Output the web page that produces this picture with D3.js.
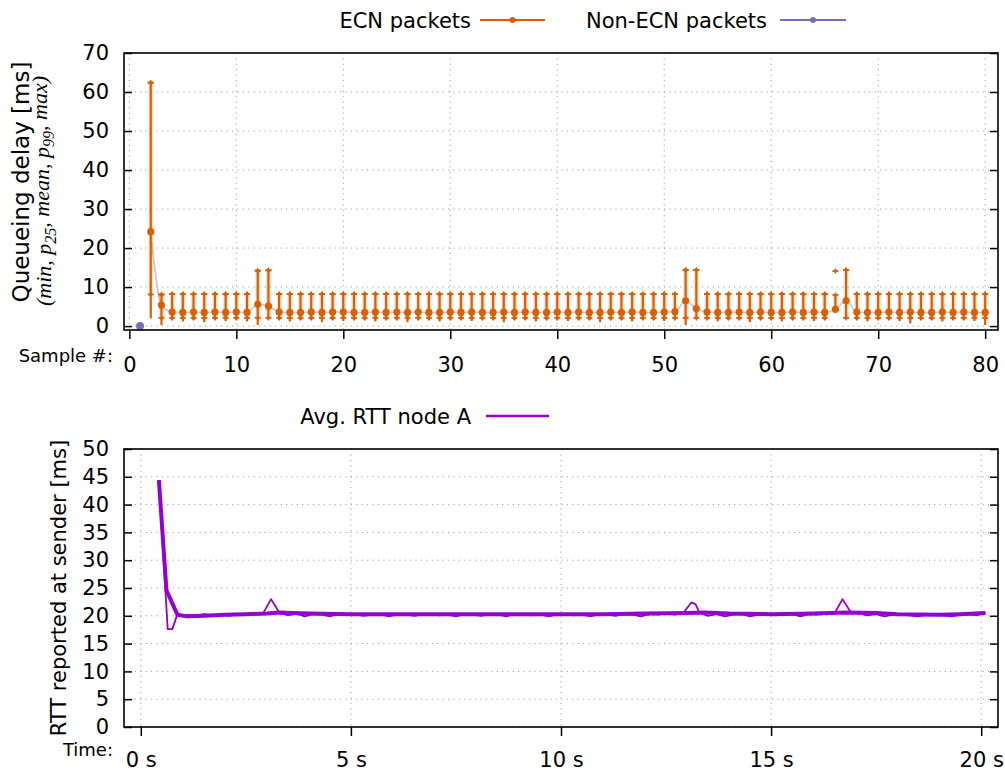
<!DOCTYPE html>
<html>
<head>
<meta charset="utf-8">
<script src="https://cdn.jsdelivr.net/npm/d3@7"></script>
<style>
  body { margin: 0; background: #fff; }
  svg { display: block; }
  text { font-family: "DejaVu Sans", sans-serif; fill: #000; }
  .grid line { stroke: #a0a0a0; stroke-width: 1; stroke-dasharray: 1.2 4.2; }
  .tick line { stroke: #000; stroke-width: 1.5; }
</style>
</head>
<body>
<svg id="chart" width="1005" height="772"></svg>
<script>
// ---- Queueing delay per sample (ECN packets, samples 2..80) ----
const ecnSamples = d3.range(2, 81);
const ecnMin = [
  2.0, 0.3, 1.5, 1.2, 1.5, 1.0, 1.5, 1.3, 1.5, 1.2,
  0.3, 2.0, 1.5, 1.2, 1.5, 1.5, 1.0, 1.5, 1.3, 1.5,
  1.5, 1.2, 1.5, 1.5, 1.0, 1.5, 1.5, 1.2, 1.5, 1.5,
  1.3, 1.5, 1.5, 1.0, 1.5, 1.5, 1.2, 1.5, 1.5, 1.3,
  1.5, 1.5, 1.0, 1.5, 1.5, 1.2, 1.5, 1.5, 1.3, 1.5,
  0.3, 2.0, 1.5, 1.2, 1.5, 1.5, 1.0, 1.5, 1.5, 1.2,
  1.5, 1.5, 1.3, 1.5, 4.0, 2.0, 1.5, 1.2, 1.5, 1.5,
  1.3, 0.7, 1.5, 1.5, 1.2, 1.5, 1.5, 1.3, 0.3
];
const ecnP25 = [
  8.1, 2.1, 2.1, 2.1, 2.1, 2.1, 2.1, 2.1, 2.1, 2.1,
  2.1, 2.1, 2.1, 2.1, 2.1, 2.1, 2.1, 2.1, 2.1, 2.1,
  2.1, 2.1, 2.1, 2.1, 2.1, 2.1, 2.1, 2.1, 2.1, 2.1,
  2.1, 2.1, 2.1, 2.1, 2.1, 2.1, 2.1, 2.1, 2.1, 2.1,
  2.1, 2.1, 2.1, 2.1, 2.1, 2.1, 2.1, 2.1, 2.1, 2.1,
  2.1, 2.1, 2.1, 2.1, 2.1, 2.1, 2.1, 2.1, 2.1, 2.1,
  2.1, 2.1, 2.1, 2.1, 4.1, 2.1, 2.1, 2.1, 2.1, 2.1,
  2.1, 2.1, 2.1, 2.1, 2.1, 2.1, 2.1, 2.1, 2.1
];
const ecnMean = [
  24.2, 5.4, 3.6, 3.5, 3.6, 3.5, 3.6, 3.5, 3.6, 3.5,
  5.6, 5.1, 3.6, 3.5, 3.5, 3.6, 3.5, 3.6, 3.6, 3.5,
  3.5, 3.6, 3.5, 3.6, 3.5, 3.6, 3.5, 3.5, 3.6, 3.5,
  3.6, 3.5, 3.5, 3.6, 3.5, 3.6, 3.5, 3.5, 3.6, 3.5,
  3.6, 3.5, 3.5, 3.6, 3.5, 3.6, 3.5, 3.5, 3.6, 3.7,
  6.5, 4.5, 3.6, 3.5, 3.5, 3.6, 3.5, 3.6, 3.5, 3.5,
  3.6, 3.5, 3.6, 3.5, 4.3, 6.5, 3.6, 3.5, 3.5, 3.6,
  3.5, 3.6, 3.5, 3.5, 3.6, 3.5, 3.6, 3.5, 3.5
];
const ecnP99 = [
  62.4, 8.1, 8.2, 8.2, 8.2, 8.2, 8.2, 8.2, 8.2, 8.2,
  14.2, 14.3, 8.2, 8.2, 8.2, 8.2, 8.2, 8.2, 8.2, 8.2,
  8.2, 8.2, 8.2, 8.2, 8.2, 8.2, 8.2, 8.2, 8.2, 8.2,
  8.2, 8.2, 8.2, 8.2, 8.2, 8.2, 8.2, 8.2, 8.2, 8.2,
  8.2, 8.2, 8.2, 8.2, 8.2, 8.2, 8.2, 8.2, 8.2, 8.2,
  14.4, 14.4, 8.2, 8.2, 8.2, 8.2, 8.2, 8.2, 8.2, 8.2,
  8.2, 8.2, 8.2, 8.2, 8.0, 14.4, 8.2, 8.2, 8.2, 8.2,
  8.2, 8.2, 8.2, 8.2, 8.2, 8.2, 8.2, 8.2, 8.2
];
const ecnMax = [
  62.4, 8.1, 8.2, 8.2, 8.2, 8.2, 8.2, 8.2, 8.2, 8.2,
  14.2, 14.3, 8.2, 8.2, 8.2, 8.2, 8.2, 8.2, 8.2, 8.2,
  8.2, 8.2, 8.2, 8.2, 8.2, 8.2, 8.2, 8.2, 8.2, 8.2,
  8.2, 8.2, 8.2, 8.2, 8.2, 8.2, 8.2, 8.2, 8.2, 8.2,
  8.2, 8.2, 8.2, 8.2, 8.2, 8.2, 8.2, 8.2, 8.2, 8.2,
  14.4, 14.4, 8.2, 8.2, 8.2, 8.2, 8.2, 8.2, 8.2, 8.2,
  8.2, 8.2, 8.2, 8.2, 14.1, 14.4, 8.2, 8.2, 8.2, 8.2,
  8.2, 8.2, 8.2, 8.2, 8.2, 8.2, 8.2, 8.2, 8.2
];

// ---- Non-ECN packets ----
const nonEcnSamples = [1];
const nonEcnMean = [0];

// ---- RTT reported at sender (raw samples) ----
const rttRawTime = [
  0.43, 0.64, 0.75, 0.87, 0.97,
  1.1, 1.3, 1.5, 1.7, 1.9, 2.1, 2.3, 2.5, 2.7, 2.9,
  3.1, 3.3, 3.5, 3.7, 3.9, 4.1, 4.3, 4.5, 4.7, 4.9,
  5.1, 5.3, 5.5, 5.7, 5.9, 6.1, 6.3, 6.5, 6.7, 6.9,
  7.1, 7.3, 7.5, 7.7, 7.9, 8.1, 8.3, 8.5, 8.7, 8.9,
  9.1, 9.3, 9.5, 9.7, 9.9, 10.1, 10.3, 10.5, 10.7, 10.9,
  11.1, 11.3, 11.5, 11.7, 11.9, 12.1, 12.3, 12.5, 12.7, 12.9,
  13.1, 13.2, 13.3, 13.5, 13.7, 13.9, 14.1, 14.3, 14.5, 14.7, 14.9,
  15.1, 15.3, 15.5, 15.7, 15.9, 16.1, 16.3, 16.5, 16.7, 16.9,
  17.1, 17.3, 17.5, 17.7, 17.9, 18.1, 18.3, 18.5, 18.7, 18.9,
  19.1, 19.3, 19.5, 19.7, 19.9, 20.1
];
const rttRaw = [
  44.4, 17.6, 17.6, 20.3, 20.0,
  20.1, 20.0, 20.3, 20.1, 20.2, 20.0, 20.3, 20.2, 20.4, 20.3,
  23.0, 20.5, 20.1, 20.4, 19.9, 20.3, 20.2, 19.9, 20.3, 20.2,
  20.3, 20.0, 20.2, 20.3, 19.9, 20.2, 20.3, 20.0, 20.2, 20.3,
  20.1, 20.2, 19.9, 20.3, 20.2, 20.0, 20.3, 20.2, 19.9, 20.3,
  20.2, 20.1, 20.3, 19.9, 20.2, 20.3, 20.1, 20.2, 19.9, 20.3,
  20.2, 20.0, 20.3, 20.2, 19.9, 20.3, 20.2, 20.4, 20.2, 20.4,
  22.4, 22.1, 20.5, 20.0, 20.3, 19.9, 20.2, 20.3, 19.9, 20.2, 20.3,
  20.1, 20.2, 20.3, 19.9, 20.3, 20.2, 20.4, 20.3, 23.0, 20.6,
  20.4, 20.1, 20.3, 19.9, 20.2, 20.3, 20.1, 19.9, 20.2, 20.3,
  20.1, 19.9, 20.2, 20.3, 20.1, 20.5
];

// ---- Avg. RTT node A ----
const rttAvgTime = [0.43, 0.61, 0.87, 1.1, 1.5, 2.0, 2.5, 3.0, 3.3, 3.6, 4.0, 5.0, 6.0, 7.0, 8.0, 9.0,
  10.0, 11.0, 12.0, 13.0, 13.4, 14.0, 15.0, 16.0, 16.8, 17.5, 18.0, 19.0, 19.5, 20.1];
const rttAvg = [44.4, 24.6, 20.2, 19.9, 20.0, 20.2, 20.3, 20.4, 20.6, 20.5, 20.4, 20.3, 20.3, 20.3, 20.3, 20.3,
  20.3, 20.3, 20.4, 20.5, 20.6, 20.4, 20.3, 20.4, 20.6, 20.5, 20.3, 20.2, 20.3, 20.5];

// ---- Axis ticks ----
const topXTicks = [0, 10, 20, 30, 40, 50, 60, 70, 80];
const topYTicks = [0, 10, 20, 30, 40, 50, 60, 70];
const botXTicks = [0, 5, 10, 15, 20];
const botYTicks = [0, 5, 10, 15, 20, 25, 30, 35, 40, 45, 50];

const ECN = "#d95f02", NONECN = "#7570b3", RTT = "#9400d3", MEANLINE = "#c8c8c8";

const svg = d3.select("#chart");

// Plot frames
const P1 = { l: 124, r: 998, t: 53, b: 330 };
const P2 = { l: 124, r: 998, t: 449, b: 727 };

const x1 = d3.scaleLinear([-0.5, 81.2], [P1.l, P1.r]);
const y1 = d3.scaleLinear([-1, 70], [P1.b, P1.t]);
const x2 = d3.scaleLinear([-0.4, 20.4], [P2.l, P2.r]);
const y2 = d3.scaleLinear([0, 50], [P2.b, P2.t]);

function frame(P, x, y, xt, yt, xfmt, xPad) {
  const grid = svg.append("g").attr("class", "grid");
  grid.selectAll(".gx").data(xt).join("line")
    .attr("x1", d => x(d)).attr("x2", d => x(d))
    .attr("y1", P.t).attr("y2", P.b);
  grid.selectAll(".gy").data(yt).join("line")
    .attr("x1", P.l).attr("x2", P.r)
    .attr("y1", d => y(d)).attr("y2", d => y(d));

  const left = svg.append("g").attr("transform", `translate(${P.l},0)`)
    .call(d3.axisLeft(y).tickValues(yt).tickSize(-8).tickPadding(15));
  const right = svg.append("g").attr("transform", `translate(${P.r},0)`)
    .call(d3.axisRight(y).tickValues(yt).tickSize(-8).tickFormat(""));
  const bottom = svg.append("g").attr("transform", `translate(0,${P.b})`)
    .call(d3.axisBottom(x).tickValues(xt).tickSize(9).tickPadding(xPad).tickFormat(xfmt));
  [left, right, bottom].forEach(a => {
    a.select(".domain").remove();
    a.selectAll("text").style("font-size", "21px").style("font-family", "'DejaVu Sans', sans-serif").attr("fill", "#000");
  });
  return () => svg.append("rect")
    .attr("x", P.l).attr("y", P.t).attr("width", P.r - P.l).attr("height", P.b - P.t)
    .attr("fill", "none").attr("stroke", "#000").attr("stroke-width", 1.6);
}

// ================= Top panel: queueing delay =================
const border1 = frame(P1, x1, y1, topXTicks, topYTicks, d3.format("d"), 18);

const ecn = ecnSamples.map((s, i) => ({
  s, min: ecnMin[i], p25: ecnP25[i], mean: ecnMean[i], p99: ecnP99[i], max: ecnMax[i]
}));

// mean trend line
svg.append("path").datum(ecn)
  .attr("fill", "none").attr("stroke", MEANLINE).attr("stroke-width", 1.6)
  .attr("d", d3.line().x(d => x1(d.s)).y(d => y1(d.mean)).curve(d3.curveMonotoneX));

const bars = svg.append("g").selectAll("g").data(ecn).join("g");
// p25..p99 halo
bars.append("rect")
  .attr("x", d => x1(d.s) - 2.5).attr("width", 5)
  .attr("y", d => y1(Math.max(d.p25, d.p99))).attr("height", d => Math.abs(y1(d.p25) - y1(d.p99)))
  .attr("fill", ECN).attr("opacity", 0.18);
// min..p99 stem
bars.append("line")
  .attr("x1", d => x1(d.s)).attr("x2", d => x1(d.s))
  .attr("y1", d => y1(d.min)).attr("y2", d => y1(d.p99))
  .attr("stroke", ECN).attr("stroke-width", 2.2);
// end markers at p25, p99 and max
["p25", "p99", "max"].forEach(k => {
  bars.append("line")
    .attr("x1", d => x1(d.s) - 3).attr("x2", d => x1(d.s) + 3)
    .attr("y1", d => y1(d[k])).attr("y2", d => y1(d[k]))
    .attr("stroke", ECN).attr("stroke-width", 1.8);
  bars.append("path")
    .attr("d", d => `M${x1(d.s)},${y1(d[k]) - 3}L${x1(d.s) + 1.8},${y1(d[k])}L${x1(d.s)},${y1(d[k]) + 3}L${x1(d.s) - 1.8},${y1(d[k])}Z`)
    .attr("fill", ECN);
});
// mean dots
bars.append("circle")
  .attr("cx", d => x1(d.s)).attr("cy", d => y1(d.mean)).attr("r", 3.6)
  .attr("fill", ECN);

// non-ECN
svg.append("g").selectAll("circle").data(nonEcnSamples.map((s, i) => ({ s, v: nonEcnMean[i] })))
  .join("circle")
  .attr("cx", d => x1(d.s)).attr("cy", d => y1(d.v)).attr("r", 4)
  .attr("fill", NONECN);

border1();

// Axis titles (top)
svg.append("text").attr("transform", "translate(29,182) rotate(-90)")
  .attr("text-anchor", "middle").style("font-size", "23px").text("Queueing delay [ms]");
const sub = svg.append("text").attr("transform", "translate(51,191) rotate(-90)")
  .attr("text-anchor", "middle")
  .style("font-family", "'Liberation Serif', 'DejaVu Serif', serif")
  .style("font-style", "italic").style("font-size", "22px");
[["(min, p", 0], ["25", 1], [", mean, p", 0], ["99", 1], [", max)", 0]].forEach(([t, isSub], i, arr) => {
  const ts = sub.append("tspan").text(t);
  if (isSub) ts.attr("dy", "0.3em").style("font-size", "16px");
  else if (i > 0 && arr[i - 1][1]) ts.attr("dy", "-0.3em");
});
svg.append("text").attr("x", 113).attr("y", 361.5).attr("text-anchor", "end")
  .style("font-size", "18px").text("Sample #:");

// Legend (top)
function legendEntry(xTextEnd, xl0, xl1, y, color, label, dot, width) {
  svg.append("text").attr("x", xTextEnd).attr("y", y).attr("dy", "0.36em")
    .attr("text-anchor", "end").style("font-size", "21px").text(label);
  svg.append("line").attr("x1", xl0).attr("x2", xl1).attr("y1", y).attr("y2", y)
    .attr("stroke", color).attr("stroke-width", width);
  if (dot) svg.append("circle").attr("cx", (xl0 + xl1) / 2).attr("cy", y).attr("r", 3)
    .attr("fill", color);
}
legendEntry(471, 480, 545, 20, ECN, "ECN packets", true, 2);
legendEntry(767, 780, 846, 20, NONECN, "Non-ECN packets", true, 2);

// ================= Bottom panel: RTT =================
const border2 = frame(P2, x2, y2, botXTicks, botYTicks, d => d + " s", 16);

const rawPts = rttRawTime.map((t, i) => [t, rttRaw[i]]);
const avgPts = rttAvgTime.map((t, i) => [t, rttAvg[i]]);

svg.append("path").datum(rawPts)
  .attr("fill", "none").attr("stroke", RTT).attr("stroke-width", 1.8)
  .attr("stroke-linejoin", "round")
  .attr("d", d3.line().x(d => x2(d[0])).y(d => y2(d[1])));
svg.append("path").datum(avgPts)
  .attr("fill", "none").attr("stroke", RTT).attr("stroke-width", 4)
  .attr("stroke-linejoin", "round")
  .attr("d", d3.line().x(d => x2(d[0])).y(d => y2(d[1])));

border2();

svg.append("text").attr("transform", "translate(66,588) rotate(-90)")
  .attr("text-anchor", "middle").style("font-size", "21px").text("RTT reported at sender [ms]");
svg.append("text").attr("x", 113).attr("y", 756).attr("text-anchor", "end")
  .style("font-size", "18px").text("Time:");

legendEntry(471, 486, 549, 416, RTT, "Avg. RTT node A", false, 2.5);
</script>
</body>
</html>
